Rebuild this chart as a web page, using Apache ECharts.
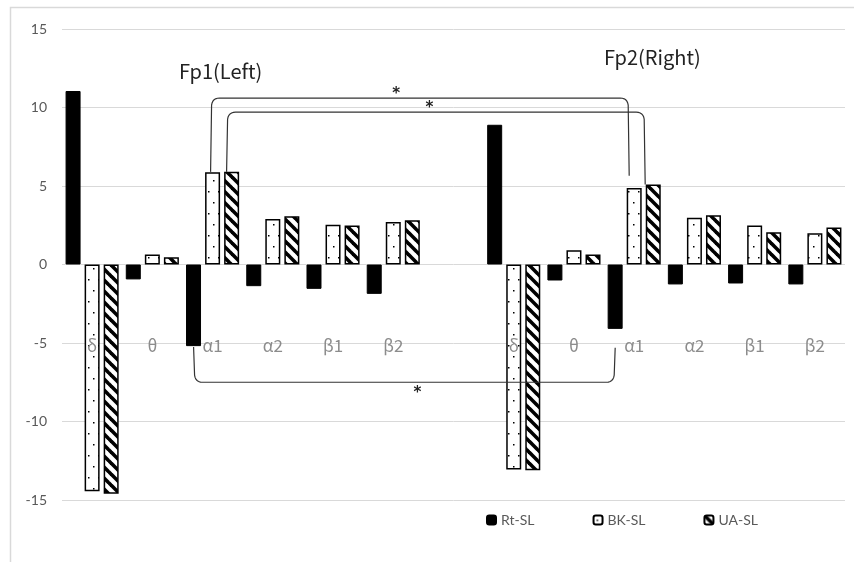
<!DOCTYPE html>
<html>
<head>
<meta charset="utf-8">
<script src="https://cdn.jsdelivr.net/npm/echarts@6/dist/echarts.min.js"></script>
<style>
  html, body { margin: 0; padding: 0; background: #fff; }
  #chart { width: 854px; height: 562px; }
</style>
</head>
<body>
<div id="chart"></div>
<script>
// bands, with an empty slot between Fp1 and Fp2
const categories = ['δ', 'θ', 'α1', 'α2', 'β1', 'β2', '', 'δ', 'θ', 'α1', 'α2', 'β1', 'β2']
const rtSL = [11.05, -0.95, -5.2, -1.38, -1.55, -1.87, null, 8.9, -1.02, -4.1, -1.27, -1.21, -1.27]
const bkSL = [-14.45, 0.64, 5.88, 2.9, 2.53, 2.7, null, -13.05, 0.91, 4.88, 2.97, 2.48, 1.99]
const uaSL = [-14.6, 0.46, 5.9, 3.08, 2.48, 2.82, null, -13.1, 0.64, 5.1, 3.14, 2.06, 2.36]
const yTicks = { min: -15, max: 15, step: 5 }
const catLabelLevel = -5.15

// significance brackets between the two α1 groups
const brackets = [
  { from: 2, to: 9, slot: 'bk', shift: -3, level: 10.6, endA: 5.9, endB: 5.65, star: 5.05 },
  { from: 2, to: 9, slot: 'ua', shift: -3, level: 9.7, endA: 5.9, endB: 5.1, star: 5.6 },
  { from: 2, to: 9, slot: 'rt', shift: 0, level: -7.5, endA: -5.25, endB: -5.3, star: 5.4 },
]

function stripeTile() {
  const c = document.createElement('canvas')
  c.width = 11
  c.height = 11
  const g = c.getContext('2d')
  g.fillStyle = '#fff'
  g.fillRect(0, 0, 11, 11)
  g.strokeStyle = '#000'
  g.lineWidth = 3.6
  for (const k of [-11, 0, 11]) {
    g.beginPath()
    g.moveTo(k - 1, -1)
    g.lineTo(k + 12, 12)
    g.stroke()
  }
  return c
}

function dotTile() {
  const c = document.createElement('canvas')
  c.width = 10
  c.height = 22
  const g = c.getContext('2d')
  g.fillStyle = '#fff'
  g.fillRect(0, 0, 10, 22)
  g.fillStyle = '#000'
  g.fillRect(3, 4, 1.5, 1.5)
  g.fillRect(8, 15, 1.5, 1.5)
  return c
}

const chart = echarts.init(document.getElementById('chart'))
const font = "'Noto Sans CJK JP', sans-serif"

const barBase = {
  type: 'bar',
  barWidth: 15,
  barGap: '27%',
}

chart.setOption({
  animation: false,
  grid: { left: 62, right: 9, top: 29, bottom: 62, outerBoundsMode: 'none' },
  legend: {
    left: 481,
    top: 508,
    itemWidth: 9,
    itemHeight: 9,
    itemGap: 58,
    textStyle: { color: '#595959', fontSize: 14, fontFamily: 'Lato' },
    data: ['Rt-SL', 'BK-SL', 'UA-SL'],
  },
  xAxis: {
    type: 'category',
    data: categories,
    axisLine: { show: false },
    axisTick: { show: false },
    axisLabel: { show: false },
  },
  yAxis: {
    type: 'value',
    min: yTicks.min,
    max: yTicks.max,
    interval: yTicks.step,
    axisLine: { show: false },
    axisTick: { show: false },
    axisLabel: { margin: 15, color: '#595959', fontSize: 14, fontFamily: 'Lato' },
    splitLine: { lineStyle: { color: '#d9d9d9', width: 1 } },
  },
  series: [
    { ...barBase, name: 'Rt-SL', data: rtSL, itemStyle: { color: '#000', borderColor: '#000', borderWidth: 1 } },
    { ...barBase, name: 'BK-SL', data: bkSL, itemStyle: { color: { image: dotTile(), repeat: 'repeat' }, borderColor: '#000', borderWidth: 1.5 } },
    { ...barBase, name: 'UA-SL', data: uaSL, itemStyle: { color: { image: stripeTile(), repeat: 'repeat' }, borderColor: '#000', borderWidth: 1.5 } },
  ],
})

// annotation overlay built from axis coordinates
const slotOffset = { rt: -19, bk: -2, ua: 14 }
const x0 = chart.convertToPixel({ xAxisIndex: 0 }, 0)
const x1 = chart.convertToPixel({ xAxisIndex: 0 }, 1)
const band = x1 - x0
const yPx = (v) => chart.convertToPixel({ yAxisIndex: 0 }, v)

const graphics = [
  {
    type: 'rect',
    shape: { x: 10.5, y: 7.5, width: 900, height: 600 },
    style: { fill: 'none', stroke: '#d9d9d9', lineWidth: 1.5 },
    silent: true,
    z: -10,
  },
  {
    type: 'text', x: 179, y: 71,
    style: { text: 'Fp1(Left)', fontSize: 20, fontFamily: font, fill: '#222', verticalAlign: 'middle' },
  },
  {
    type: 'text', x: 604, y: 57,
    style: { text: 'Fp2(Right)', fontSize: 20, fontFamily: font, fill: '#222', verticalAlign: 'middle' },
  },
]

categories.forEach((name, i) => {
  if (!name) return
  graphics.push({
    type: 'text',
    x: x0 + i * band,
    y: yPx(catLabelLevel),
    style: { text: name, fontSize: 17, fontFamily: font, fill: '#8c8c8c', align: 'center', verticalAlign: 'middle' },
    z: 50,
  })
})

function quad(p0, c, p1, n) {
  const pts = []
  for (let k = 1; k <= n; k++) {
    const t = k / n
    const u = 1 - t
    pts.push([u * u * p0[0] + 2 * u * t * c[0] + t * t * p1[0], u * u * p0[1] + 2 * u * t * c[1] + t * t * p1[1]])
  }
  return pts
}

brackets.forEach((b) => {
  const xa = x0 + b.from * band + slotOffset[b.slot]
  const xb = x0 + b.to * band + slotOffset[b.slot] + b.shift
  const yl = yPx(b.level)
  const ya = yPx(b.endA)
  const yb = yPx(b.endB)
  const up = yl < ya
  const r = 7
  const s = up ? 1 : -1
  const pA = [xa + 1, yl + s * r]
  const pB = [xb - r - 2, yl]
  const points = [
    [xa, ya],
    pA,
    ...quad(pA, [xa + 2, yl], [xa + r + 2, yl], 6),
    pB,
    ...quad(pB, [xb - 2, yl], [xb - 1, yl + s * r], 6),
    [xb, yb],
  ]
  graphics.push({
    type: 'polyline',
    shape: { points },
    style: { fill: null, stroke: '#333', lineWidth: 1.2 },
    z: 100,
  })
  graphics.push({
    type: 'text',
    x: x0 + b.star * band,
    y: up ? yl - 4 : yl + 11,
    style: { text: '*', fontSize: 15, fontWeight: 'bold', fontFamily: 'DejaVu Sans', fill: '#222', align: 'center', verticalAlign: 'middle' },
    z: 100,
  })
})

chart.setOption({ graphic: graphics })
</script>
</body>
</html>
